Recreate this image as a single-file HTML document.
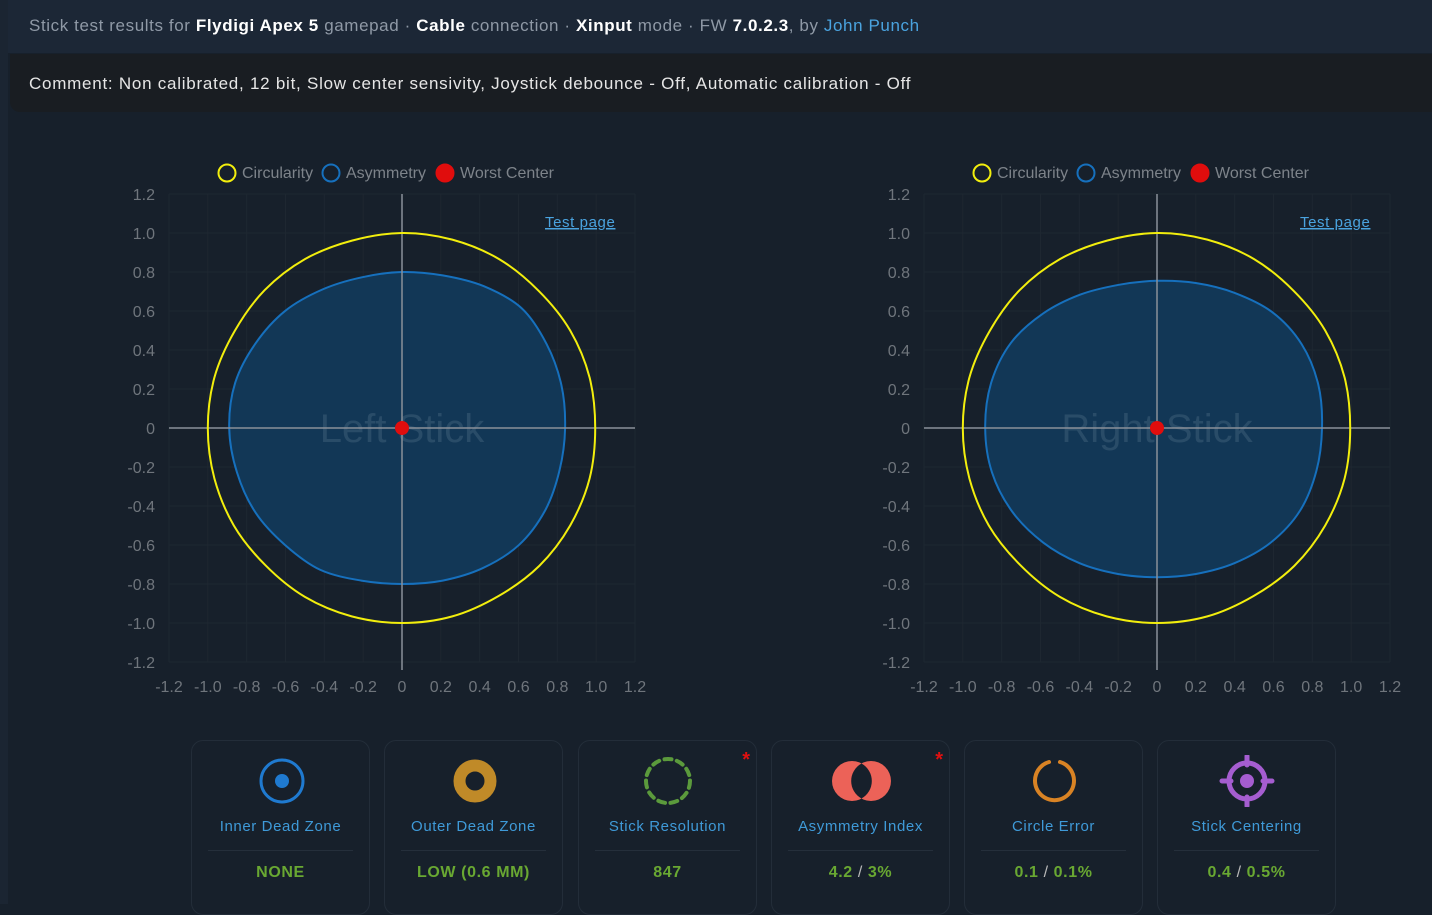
<!DOCTYPE html>
<html><head><meta charset="utf-8">
<style>
body{margin:0;width:1432px;height:904px;overflow:hidden;background:#17202b;font-family:"Liberation Sans",sans-serif;position:relative}
#strip{position:absolute;left:0;top:0;width:8px;height:904px;background:#1b2532}
#hdr{position:absolute;left:8px;top:0;width:1424px;height:53px;background:#1c2736;color:#8f99a6;font-size:17px;letter-spacing:0.6px;line-height:52px;padding-left:21px;box-sizing:border-box}
#hdr b{color:#fff}
#hdr a{color:#4aa3df;text-decoration:none}
#cmt{position:absolute;left:10px;top:54px;width:1422px;height:58px;background:#191d22;border-radius:0 0 0 10px;color:#e6e6e6;font-size:17px;letter-spacing:0.75px;line-height:60px;padding-left:19px;box-sizing:border-box}
svg{position:absolute;left:0;top:0}
.card{position:absolute;top:740px;width:179px;height:175px;border:1px solid #232d39;border-radius:12px;box-sizing:border-box;text-align:center}
.card .ic{position:absolute;left:0;right:0;top:14px;height:52px}
.card .t{position:absolute;left:0;right:0;top:77px;color:#3f9ad8;font-size:15px;letter-spacing:0.6px}
.card .d{position:absolute;left:16px;right:16px;top:109px;border-top:1px solid #252f3b}
.card .v{position:absolute;left:0;right:0;top:123px;color:#69a832;font-weight:bold;font-size:16px;letter-spacing:0.6px}
.card .v i{color:#b9b9b9;font-style:normal;font-weight:normal}
.card .st{position:absolute;right:6px;top:8px;color:#e01010;font-size:20px;font-weight:bold}
</style></head><body>
<div id="strip"></div>
<div id="hdr">Stick test results for <b>Flydigi Apex 5</b> gamepad · <b>Cable</b> connection · <b>Xinput</b> mode · FW <b>7.0.2.3</b>, by <a href="#">John Punch</a></div>
<div id="cmt">Comment: Non calibrated, 12 bit, Slow center sensivity, Joystick debounce - Off, Automatic calibration - Off</div>
<svg id="chart" width="1432" height="904"></svg>

<div class="card" style="left:191px">
<svg class="ic" width="179" height="52" style="position:absolute"><circle cx="90" cy="26" r="21" fill="none" stroke="#1f7ad0" stroke-width="3"/><circle cx="90" cy="26" r="7" fill="#1f7ad0"/></svg>
<div class="t">Inner Dead Zone</div><div class="d"></div><div class="v">NONE</div></div>
<div class="card" style="left:384px">
<svg class="ic" width="179" height="52" style="position:absolute"><circle cx="90" cy="26" r="15.5" fill="none" stroke="#c08a28" stroke-width="12"/></svg>
<div class="t">Outer Dead Zone</div><div class="d"></div><div class="v">LOW (0.6 MM)</div></div>
<div class="card" style="left:578px">
<svg class="ic" width="179" height="52" style="position:absolute"><circle cx="89" cy="26" r="22" fill="none" stroke="#5b9a3c" stroke-width="4" stroke-dasharray="7 5.5" stroke-linecap="round"/></svg>
<div class="st">*</div><div class="t">Stick Resolution</div><div class="d"></div><div class="v">847</div></div>
<div class="card" style="left:771px">
<svg class="ic" width="179" height="52" style="position:absolute"><circle cx="80" cy="26" r="20" fill="#ec6258"/><circle cx="99" cy="26" r="20" fill="#ec6258"/><path d="M89.5 8.5 A20 20 0 0 1 89.5 43.5 A20 20 0 0 1 89.5 8.5Z" fill="#17202b"/></svg>
<div class="st">*</div><div class="t">Asymmetry Index</div><div class="d"></div><div class="v">4.2 <i>/</i> 3%</div></div>
<div class="card" style="left:964px">
<svg class="ic" width="179" height="52" style="position:absolute"><path d="M84 7 A19.5 19.5 0 1 0 95 7" fill="none" stroke="#d98324" stroke-width="4" stroke-linecap="round"/></svg>
<div class="t">Circle Error</div><div class="d"></div><div class="v">0.1 <i>/</i> 0.1%</div></div>
<div class="card" style="left:1157px">
<svg class="ic" width="179" height="52" style="position:absolute"><circle cx="89" cy="26" r="18" fill="none" stroke="#a55dd0" stroke-width="5"/><circle cx="89" cy="26" r="7" fill="#a55dd0"/><path d="M89 1v9M89 42v9M64 26h9M105 26h9" stroke="#a55dd0" stroke-width="5" stroke-linecap="round"/></svg>
<div class="t">Stick Centering</div><div class="d"></div><div class="v">0.4 <i>/</i> 0.5%</div></div>

<script>
const tickValues=[-1.2,-1.0,-0.8,-0.6,-0.4,-0.2,0,0.2,0.4,0.6,0.8,1.0,1.2];
const tickLabels=["-1.2","-1.0","-0.8","-0.6","-0.4","-0.2","0","0.2","0.4","0.6","0.8","1.0","1.2"];
const angles=[0,15,30,45,60,75,90,105,120,135,150,165,180,195,210,225,240,255,270,285,300,315,330,345];
const leftAsym=[0.84,0.85,0.86,0.87,0.84,0.81,0.80,0.80,0.82,0.85,0.87,0.89,0.89,0.88,0.87,0.85,0.84,0.81,0.80,0.81,0.83,0.85,0.85,0.84];
const rightAsym=[0.85,0.86,0.86,0.84,0.80,0.77,0.755,0.76,0.79,0.83,0.87,0.885,0.885,0.88,0.86,0.83,0.80,0.775,0.765,0.775,0.80,0.83,0.85,0.85];
const leftCirc=[0.995,1.0,1.0,0.995,1.0,1.0,1.0,0.995,1.0,1.0,0.995,1.0,1.0,1.0,1.0,0.995,1.0,1.0,1.0,1.0,0.995,1.0,1.0,1.0];
const rightCirc=[0.995,1.0,1.0,0.995,1.0,1.0,1.0,0.995,1.0,1.0,0.995,1.0,1.0,1.0,1.0,0.995,1.0,1.0,1.0,1.0,0.995,1.0,1.0,1.0];
const leftCenter=[0,0];
const rightCenter=[0,0];
const NS='http://www.w3.org/2000/svg';
const svg=document.getElementById('chart');
function mk(tag,attrs,parent){const e=document.createElementNS(NS,tag);for(const k in attrs)e.setAttribute(k,attrs[k]);(parent||svg).appendChild(e);return e;}
function smoothPath(P){
  const n=P.length;let d='M'+P[0][0].toFixed(1)+','+P[0][1].toFixed(1);
  for(let i=0;i<n;i++){
    const p0=P[(i-1+n)%n],p1=P[i],p2=P[(i+1)%n],p3=P[(i+2)%n];
    const c1=[p1[0]+(p2[0]-p0[0])/6,p1[1]+(p2[1]-p0[1])/6];
    const c2=[p2[0]-(p3[0]-p1[0])/6,p2[1]-(p3[1]-p1[1])/6];
    d+='C'+c1[0].toFixed(1)+','+c1[1].toFixed(1)+' '+c2[0].toFixed(1)+','+c2[1].toFixed(1)+' '+p2[0].toFixed(1)+','+p2[1].toFixed(1);
  }
  return d+'Z';
}
function drawChart(x0,title,asym,circ,center,nm){
  const g=mk('g',{});
  
  
  const xL=x0,xR=x0+466,yT=194,yB=662;
  const sx=v=>xL+(v+1.2)/2.4*(xR-xL);
  const sy=v=>yB-(v+1.2)/2.4*(yB-yT);
  tickValues.forEach((v,i)=>{
    if(v!==0){
      mk('line',{x1:sx(v),x2:sx(v),y1:yT,y2:yB,stroke:'#1e2731','stroke-width':1},g);
      mk('line',{x1:xL,x2:xR,y1:sy(v),y2:sy(v),stroke:'#1e2731','stroke-width':1},g);
    }
    const yl=mk('text',{x:xL-14,y:sy(v)+6,'text-anchor':'end',fill:'#6f757c','font-size':16},g);
    yl.textContent=tickLabels[i];
    
    
    const xl=mk('text',{x:sx(v),y:yB+30,'text-anchor':'middle',fill:'#6f757c','font-size':16},g);
    xl.textContent=tickLabels[i];
    
    
  });
  const pts=arr=>arr.map((r,i)=>{const a=angles[i]*Math.PI/180;return [sx(r*Math.cos(a)),sy(r*Math.sin(a))];});
  const p=mk('path',{d:smoothPath(pts(asym)),fill:'#123756',stroke:'#1670bd','stroke-width':2},g);
  
  
  const wm=mk('text',{x:sx(0),y:sy(0)+14,'text-anchor':'middle',fill:'rgba(150,170,190,0.18)','font-size':40},g);
  wm.textContent=title;
  
  
  mk('line',{x1:xL,x2:xR,y1:sy(0),y2:sy(0),stroke:'#8a9099','stroke-width':1.5},g);
  mk('line',{x1:sx(0),x2:sx(0),y1:yT,y2:yB+8,stroke:'#8a9099','stroke-width':1.5},g);
  const c=mk('path',{d:smoothPath(pts(circ)),fill:'none',stroke:'#f2ee0d','stroke-width':2},g);
  
  
  const d=mk('circle',{cx:sx(center[0]),cy:sy(center[1]),r:7,fill:'#e00d0d'},g);
  
  
  const lx=x0+58;
  const leg=[['Circularity','none','#f2ee0d',0],['Asymmetry','none','#1670bd',104],['Worst Center','#e00d0d','#e00d0d',218]];
  leg.forEach(l=>{
    const lc=mk('circle',{cx:lx+l[3],cy:173,r:8.5,fill:l[1],stroke:l[2],'stroke-width':2},g);
    
    
    const lt=mk('text',{x:lx+l[3]+15,y:178,fill:'#7d838a','font-size':16},g);
    lt.textContent=l[0];
    
    
  });
  const tp=mk('text',{x:x0+376,y:227,fill:'#4aa3df','font-size':15,'letter-spacing':'0.6','text-decoration':'underline'},g);
  tp.textContent='Test page';
  
  
}
drawChart(169,'Left Stick',leftAsym,leftCirc,leftCenter,'left-stick');
drawChart(924,'Right Stick',rightAsym,rightCirc,rightCenter,'right-stick');
</script>
</body></html>
